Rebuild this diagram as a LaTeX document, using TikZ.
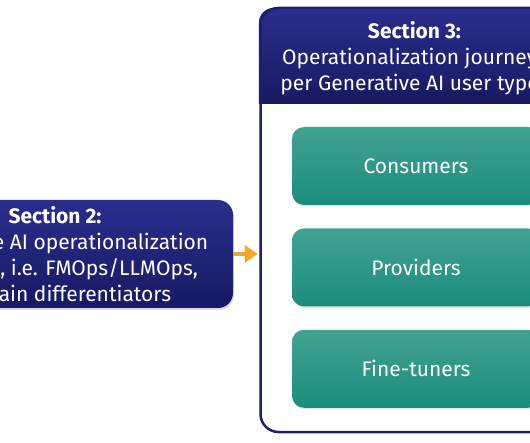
\documentclass[tikz,border=0pt]{standalone}
\usepackage{fontspec}
\setmainfont{Fira Sans}
\usetikzlibrary{positioning,shadows,backgrounds,arrows.meta}
\definecolor{navytop}{RGB}{42,46,140}
\definecolor{navybot}{RGB}{22,26,98}
\definecolor{framenavy}{RGB}{28,31,105}
\definecolor{greentop}{RGB}{66,162,146}
\definecolor{greenbot}{RGB}{27,141,124}
\definecolor{arroworange}{RGB}{247,167,38}

\begin{document}
\begin{tikzpicture}[x=1pt, y=1pt, node distance=23pt,
        section/.style={
            rectangle,
            rounded corners=15pt,
            top color=navytop, bottom color=navybot,
            text=white,
            font=\fontsize{21}{26}\selectfont,
            align=center,
            minimum width=356pt,
            minimum height=108pt,
            drop shadow={opacity=0.3, shadow xshift=1pt, shadow yshift=-2pt}},
        frame/.style={
            rectangle,
            rounded corners=18pt,
            draw=framenavy, line width=2.5pt,
            inner sep=0pt,
            minimum width=309pt,
            minimum height=424pt},
        header/.style={
            rectangle,
            inner sep=0pt,
            text=white,
            font=\fontsize{21}{26}\selectfont,
            align=center,
            minimum width=311pt,
            minimum height=101pt},
        usertype/.style={
            rectangle,
            rounded corners=12pt,
            top color=greentop, bottom color=greenbot,
            text=white,
            font=\fontsize{21}{24}\selectfont,
            minimum width=248pt,
            minimum height=78pt,
            drop shadow={opacity=0.2, shadow xshift=1pt, shadow yshift=-1.5pt}},
        arrow/.style={
            line width=4.5pt,
            draw=arroworange,
            -{Triangle[length=13pt, width=17pt]}}
        ]

        \useasboundingbox (0,0) rectangle (530,442);

        \node (sec2) [section] at (55,188) {\textbf{Section 2:}\\Generative AI operationalization\\vs MLOps, i.e. FMOps/LLMOps,\\and main differentiators};

        \node (journeys) [frame] at (415,222) {};
        \node (sec3) [header] at (414.5,383.5) {\textbf{Section 3:}\\Operationalization journeys\\per Generative AI user types};

        \node (consumers) [usertype] at (416,276) {Consumers};
        \node (providers) [usertype, below=of consumers] {Providers};
        \node (finetuners) [usertype, below=of providers] {Fine-tuners};

        % header fill, square at the bottom
        \begin{scope}[on background layer]
            \clip [rounded corners=15pt] (sec3.north west) rectangle ([yshift=-20pt]sec3.south east);
            \shade [top color=navytop, bottom color=navybot] (sec3.north west) rectangle ([yshift=6pt]sec3.south east);
        \end{scope}

        \draw [arrow, shorten >=1.5pt] (sec2.east) -- (sec2.east -| journeys.west);

\end{tikzpicture}
\end{document}
